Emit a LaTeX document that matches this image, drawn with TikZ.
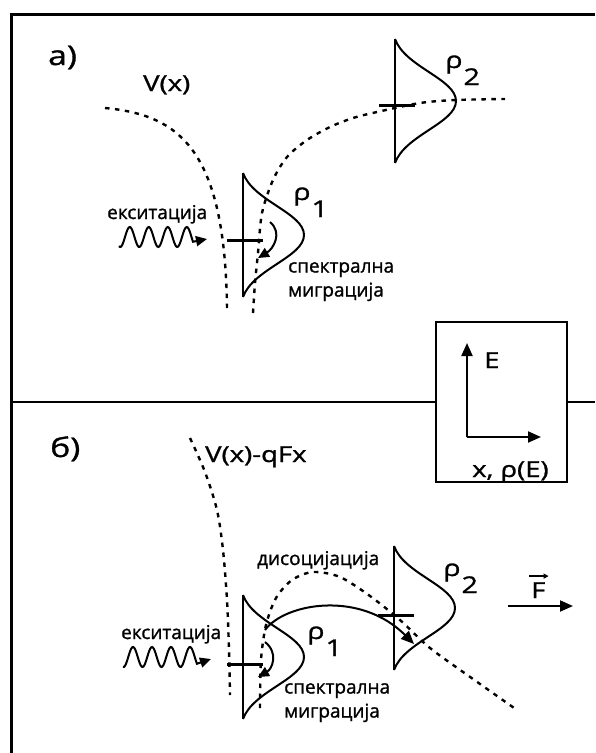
\documentclass[tikz,border=0pt]{standalone}
\usepackage{fontspec}
\setmainfont[FakeBold=1.2]{Open Sans}
\newfontfamily\widefont[FakeStretch=1.25,FakeBold=1.2]{Open Sans}
\usetikzlibrary{arrows.meta}
\newcommand\distshape[1]{%
  \draw[shp] (0,-62) -- (0,62);
  \draw[shp] (0,-62) .. controls (10,-34) and (61,-22) .. (61,0)
             .. controls (61,22) and (10,34) .. (0,62);
  \draw[tickline] (-16,#1) -- (20,#1);}
\begin{document}
\begin{tikzpicture}[x=1pt,y=-1pt,
  lbl/.style={inner sep=0pt, anchor=base west, font=\fontsize{19}{24}\selectfont},
  big/.style={inner sep=0pt, anchor=base west, font=\widefont\fontsize{22}{26}\selectfont},
  panel/.style={inner sep=0pt, anchor=base west, font=\widefont\fontsize{27}{30}\selectfont},
  rholbl/.style={inner sep=0pt, anchor=base west, font=\widefont\fontsize{23}{26}\selectfont},
  pot/.style={line width=2.4pt, dash pattern=on 4.5pt off 5.5pt},
  shp/.style={line width=2pt},
  tickline/.style={line width=3pt},
  tipA/.style={-{Triangle[length=11pt,width=10pt]}},
  tipB/.style={-{Triangle[length=13pt,width=11pt]}},
]
\useasboundingbox (0,0) rectangle (595,753);
% frame
\draw[line width=3pt] (11,753) -- (11,14) -- (595,14);
% legend box and divider
\node[draw, line width=2pt, minimum width=131pt, minimum height=160pt, inner sep=0pt] (box) at (501.5,402) {};
\draw[line width=2.5pt] (11,402) -- (box.west);
\draw[line width=2.5pt] (box.east) -- (595,402);
\coordinate (orig) at (467,437);
\coordinate (eaxis) at (467,343);
\coordinate (xaxis) at (541,437);
\draw[line width=2pt, tipB] (orig) -- (eaxis);
\draw[line width=2pt, tipB] (orig) -- (xaxis);
\node[big] (elbl) at (484,368) {E};
\node[big] (xlbl) at (472,477) {x, ρ(E)};

% ---------- panel a ----------
\node[panel] (pa) at (48,65) {а)};
\node[big] (va) at (143,91) {V(x)};
\draw[pot] (105,108) .. controls (180,115) and (225,150) .. (227,308);
\draw[pot] plot[smooth] coordinates {(253,313) (255,283) (258,253) (262,213) (273,180) (287,157) (307,140) (330,127) (353,118) (377,112) (420,103) (456,100) (505,99)};
\begin{scope}[shift={(243,235)}]
  \distshape{5}
  \coordinate (ma1) at (27,-13);
  \coordinate (ma2) at (15,23);
  \draw[shp, tipA] (ma1) .. controls (40,-2) and (30,14) .. (ma2);
\end{scope}
\begin{scope}[shift={(395,101)}]
  \distshape{4}
\end{scope}
\node[rholbl] (r1a) at (293,200) {ρ\kern1pt\raisebox{-17pt}{1}};
\node[rholbl] (r2a) at (445,68) {ρ\kern1pt\raisebox{-17pt}{2}};
\node[lbl] (exa) at (107,219) {екситација};
\node[lbl, align=left, anchor=north west] (spa) at (288,262) {спектрална\\миграција};
\coordinate (wa) at (207,239);
\draw[shp, tipA] plot[domain=119:193, samples=80] (\x, {237 - 10*sin((\x-125)/19*360)}) -- (wa);

% ---------- panel b ----------
\node[panel] (pb) at (50,457) {б)};
\node[big] (vb) at (205,462) {V(x)-qFx};
\draw[pot] plot[smooth] coordinates {(190,438) (205,472) (217,510) (223,550) (227,600) (229,650) (230,695)};
\draw[pot] plot[smooth] coordinates {(260,708) (261,660) (266,625) (276,598) (292,580) (313,572) (340,577) (370,596) (400,620) (430,648) (473,679) (517,710)};
\begin{scope}[shift={(243,657)}]
  \distshape{7}
  \coordinate (mb1) at (22,-15);
  \coordinate (mb2) at (15,20);
  \draw[shp, tipA] (mb1) .. controls (36,-4) and (29,12) .. (mb2);
\end{scope}
\begin{scope}[shift={(394,608)}]
  \distshape{7}
\end{scope}
\coordinate (ds1) at (265,630);
\coordinate (ds2) at (414,644);
\draw[shp, tipB] (ds1) .. controls (285,603) and (360,590) .. (ds2);
\node[lbl] (dis) at (257,565) {дисоцијација};
\node[rholbl] (r1b) at (307,639) {ρ\kern1pt\raisebox{-17pt}{1}};
\node[rholbl] (r2b) at (443,576) {ρ\kern1pt\raisebox{-17pt}{2}};
\node[lbl] (exb) at (121,639) {екситација};
\node[lbl, align=left, anchor=north west] (spb) at (284,683) {спектрална\\миграција};
\coordinate (wb) at (211,659);
\draw[shp, tipA] plot[domain=123:197, samples=80] (\x, {657 - 10*sin((\x-133)/19*360+90)}) -- (wb);
% field arrow
\coordinate (f1) at (508,606);
\coordinate (f2) at (573,606);
\draw[line width=2pt, tipB] (f1) -- (f2);
\node[big] (flbl) at (531,598) {F};
\draw[line width=1.5pt, -{Triangle[length=5pt,width=5pt]}] ([xshift=-2pt,yshift=6pt]flbl.north west) -- ([xshift=3pt,yshift=6pt]flbl.north east);
\end{tikzpicture}
\end{document}
